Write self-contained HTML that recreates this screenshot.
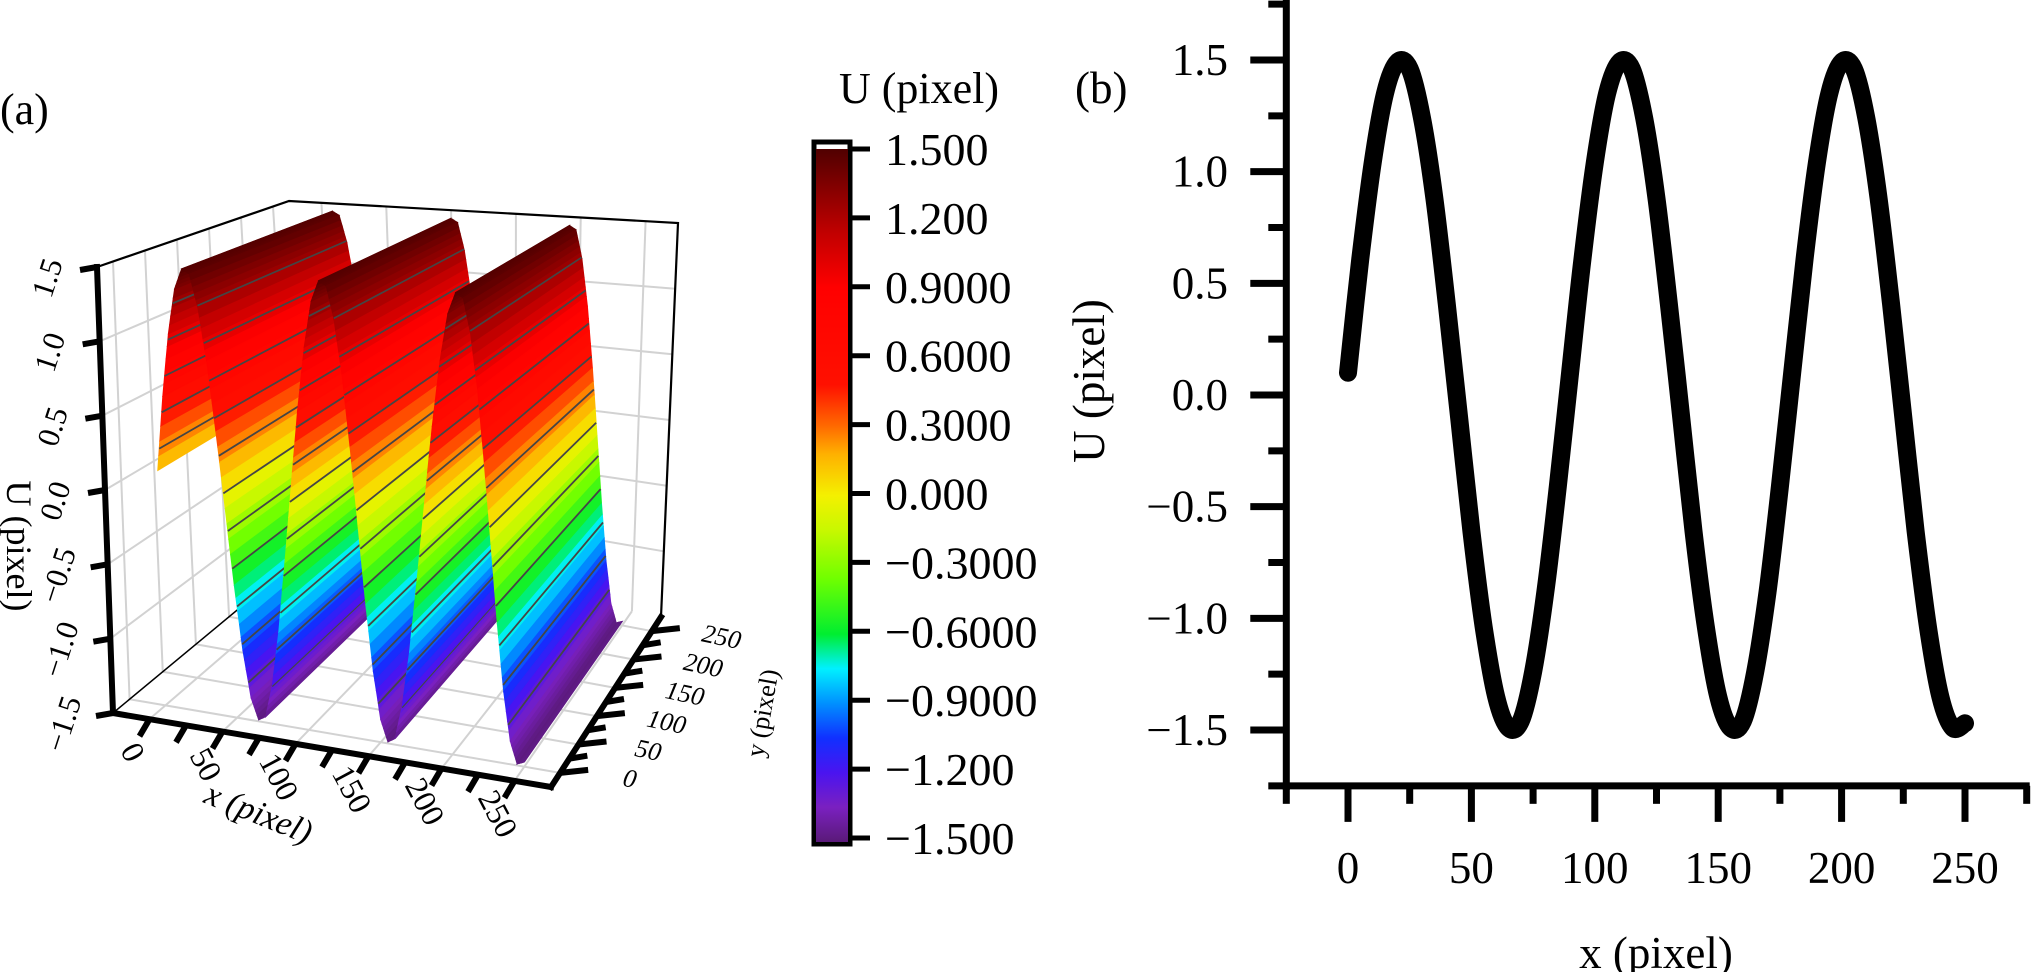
<!DOCTYPE html>
<html><head><meta charset="utf-8"><style>
html,body{margin:0;padding:0;background:#fff;}
svg{display:block;font-family:"Liberation Serif","Times New Roman",serif;}
</style></head><body>
<svg id="fig" width="2034" height="972" viewBox="0 0 2034 972" xmlns="http://www.w3.org/2000/svg">
<defs>
<linearGradient id="cbgrad" x1="0" y1="1" x2="0" y2="0">
<stop offset="0" stop-color="#5a1a78"/><stop offset="0.05" stop-color="#7a20c0"/><stop offset="0.1" stop-color="#4a14f0"/><stop offset="0.15" stop-color="#1030ff"/><stop offset="0.2" stop-color="#0090ff"/><stop offset="0.25" stop-color="#00f0ff"/><stop offset="0.3" stop-color="#00ee30"/><stop offset="0.38" stop-color="#70ff00"/><stop offset="0.45" stop-color="#c8f800"/><stop offset="0.5" stop-color="#f4f000"/><stop offset="0.56" stop-color="#ffb000"/><stop offset="0.6" stop-color="#ff6a00"/><stop offset="0.66" stop-color="#ff1000"/><stop offset="0.8" stop-color="#ff0000"/><stop offset="0.88" stop-color="#c00000"/><stop offset="1" stop-color="#500000"/>
</linearGradient>
</defs>
<g id="left"></g>
<g id="cbar"></g>
<g id="right"></g>
</svg>
<script>
// ---- data ----
const xValues = [0,5,10,15,20,25,30,35,40,45,50,55,60,65,70,75,80,85,90,95,100,105,110,115,120,125,130,135,140,145,150,155,160,165,170,175,180,185,190,195,200,205,210,215,220,225,230,235,240,245,250];
const uValues = [0.10,0.61,1.04,1.35,1.49,1.46,1.24,0.88,0.41,-0.10,-0.61,-1.04,-1.35,-1.49,-1.46,-1.24,-0.88,-0.41,0.10,0.61,1.04,1.35,1.49,1.46,1.24,0.88,0.41,-0.10,-0.61,-1.04,-1.35,-1.49,-1.46,-1.24,-0.88,-0.41,0.10,0.61,1.04,1.35,1.49,1.46,1.24,0.88,0.41,-0.10,-0.61,-1.04,-1.35,-1.49,-1.47];
const xTicks2D = [0,50,100,150,200,250];
const yTicks2D = [1.5,1.0,0.5,0.0,-0.5,-1.0,-1.5];
const yTickLabels2D = ["1.5","1.0","0.5","0.0","\u22120.5","\u22121.0","\u22121.5"];
const cbTicks = [1.5,1.2,0.9,0.6,0.3,0.0,-0.3,-0.6,-0.9,-1.2,-1.5];
const cbLabels = ["1.500","1.200","0.9000","0.6000","0.3000","0.000","\u22120.3000","\u22120.6000","\u22120.9000","\u22121.200","\u22121.500"];
const zTicks3D = [1.5,1.0,0.5,0.0,-0.5,-1.0,-1.5];
const zTickLabels3D = ["1.5","1.0","0.5","0.0","\u22120.5","\u22121.0","\u22121.5"];
const xyTicks3D = [0,50,100,150,200,250];
const contourLevels = [1.25,1.0,0.75,0.5,0.25,0.0,-0.25,-0.5,-0.75,-1.0,-1.25];

const NS="http://www.w3.org/2000/svg";
function mk(parent,tag,attrs,text){const e=document.createElementNS(NS,tag);for(const k in attrs)e.setAttribute(k,attrs[k]);if(text!==undefined)e.textContent=text;parent.appendChild(e);return e;}

// ---- colormap ----
const cmapV=[-1.5,-1.35,-1.2,-1.05,-0.9,-0.75,-0.6,-0.36,-0.15,0.0,0.18,0.3,0.48,0.9,1.14,1.5];
const cmapC=[[90,26,120],[122,32,192],[74,20,240],[16,48,255],[0,144,255],[0,240,255],[0,238,48],[112,255,0],[200,248,0],[244,240,0],[255,176,0],[255,106,0],[255,16,0],[255,0,0],[192,0,0],[80,0,0]];
function cmap(v){if(v<=cmapV[0])return cmapC[0];for(let i=1;i<cmapV.length;i++){if(v<=cmapV[i]){const t=(v-cmapV[i-1])/(cmapV[i]-cmapV[i-1]);const a=cmapC[i-1],b=cmapC[i];return [0,1,2].map(k=>Math.round(a[k]+(b[k]-a[k])*t));}}return cmapC[cmapC.length-1];}
function rgb(c){return 'rgb('+c[0]+','+c[1]+','+c[2]+')';}

// ---- 3D projection (trilinear between box corners) ----
const XR=[-25,275],YR=[-25,275],ZR=[-1.5,1.5];
const C={'000':[113,713],'100':[551,787],'010':[312,548],'110':[661,617],'001':[97,267],'101':[560,308],'011':[289,201],'111':[678,223]};
function P(x,y,z){const u=(x-XR[0])/(XR[1]-XR[0]),v=(y-YR[0])/(YR[1]-YR[0]),w=(z-ZR[0])/(ZR[1]-ZR[0]);let px=0,py=0;
for(const i of [0,1])for(const j of [0,1])for(const k of [0,1]){const f=(i?u:1-u)*(j?v:1-v)*(k?w:1-w);const c=C[''+i+j+k];px+=f*c[0];py+=f*c[1];}return [px,py];}
function pts(a){return a.map(p=>p[0].toFixed(1)+','+p[1].toFixed(1)).join(' ');}

const L=document.getElementById('left');
const grid=mk(L,'g',{stroke:'#d2d2d2','stroke-width':2,fill:'none'});


const zg=[-1.0,-0.5,0.0,0.5,1.0];
xyTicks3D.forEach(t=>{
  let a=P(-25,t,-1.5),b=P(-25,t,1.5);mk(grid,'line',{x1:a[0],y1:a[1],x2:b[0],y2:b[1]});
  a=P(t,275,-1.5);b=P(t,275,1.5);mk(grid,'line',{x1:a[0],y1:a[1],x2:b[0],y2:b[1]});
  a=P(t,-25,-1.5);b=P(t,275,-1.5);mk(grid,'line',{x1:a[0],y1:a[1],x2:b[0],y2:b[1]});
  a=P(-25,t,-1.5);b=P(275,t,-1.5);mk(grid,'line',{x1:a[0],y1:a[1],x2:b[0],y2:b[1]});
});
zg.forEach(z=>{
  let a=P(-25,-25,z),b=P(-25,275,z),c=P(275,275,z);mk(grid,'polyline',{points:pts([a,b,c])});
});
const box=mk(L,'polyline',{points:pts([P(-25,-25,1.5),P(-25,275,1.5),P(275,275,1.5),P(275,275,-1.5)]),fill:'none',stroke:'#000','stroke-width':2.2});


const fl=mk(L,'line',{x1:P(-25,-25,-1.5)[0],y1:P(-25,-25,-1.5)[1],x2:P(-25,275,-1.5)[0],y2:P(-25,275,-1.5)[1],stroke:'#000','stroke-width':1.5});



const surf=mk(L,'g',{});


const SUB=5;
for(let i=0;i<xValues.length-1;i++){
  for(let s=0;s<SUB;s++){
    const xa=xValues[i]+(xValues[i+1]-xValues[i])*s/SUB, xb=xValues[i]+(xValues[i+1]-xValues[i])*(s+1)/SUB;
    const za=uValues[i]+(uValues[i+1]-uValues[i])*s/SUB, zb=uValues[i]+(uValues[i+1]-uValues[i])*(s+1)/SUB;
    const col=rgb(cmap((za+zb)/2));
    const q=mk(surf,'polygon',{points:pts([P(xa,0,za),P(xb,0,zb),P(xb,250,zb),P(xa,250,za)]),fill:col,stroke:col,'stroke-width':1});
    
    
  }
  contourLevels.forEach(lv=>{
    const z0=uValues[i],z1=uValues[i+1];
    if((lv-z0)*(lv-z1)<0){const xc=xValues[i]+(xValues[i+1]-xValues[i])*(lv-z0)/(z1-z0);
      const a=P(xc,0,lv),b=P(xc,250,lv);
      const ln=mk(surf,'line',{x1:a[0],y1:a[1],x2:b[0],y2:b[1],stroke:'#454545','stroke-width':1.8});
      
      }
  });
}
function axLine(a,b,name){const e=mk(L,'line',{x1:a[0],y1:a[1],x2:b[0],y2:b[1],stroke:'#000','stroke-width':6,'stroke-linecap':'square'});}
axLine(P(-25,-25,-1.5),P(-25,-25,1.5),'z-axis');
axLine(P(-25,-25,-1.5),P(275,-25,-1.5),'x-axis');
axLine(P(275,-25,-1.5),P(275,275,-1.5),'y-axis');
zTicks3D.forEach((z,i)=>{const a=P(-25,-25,z);
  const t=mk(L,'line',{x1:a[0],y1:a[1],x2:a[0]-17,y2:a[1]+3,stroke:'#000','stroke-width':6});
  
  
  const lx=a[0]-40,ly=a[1]+14;
  const lb=mk(L,'text',{x:lx,y:ly,'font-size':31,'text-anchor':'middle',transform:'rotate(-72 '+lx+' '+ly+')'},zTickLabels3D[i]);
  
  
});
for(let v=0;v<=250;v+=25){
  let a=P(v,-25,-1.5);
  const t=mk(L,'line',{x1:a[0],y1:a[1],x2:a[0]-10,y2:a[1]+17,stroke:'#000','stroke-width':6});
  
  
  a=P(275,v,-1.5);
  const ty=mk(L,'line',{x1:a[0],y1:a[1],x2:a[0]+(v%50===0?28:18),y2:a[1]-3,stroke:'#000','stroke-width':6});
  
  
}
xyTicks3D.forEach(v=>{
  let a=P(v,-25,-1.5);const lx=a[0]-26,ly=a[1]+38;
  const t=mk(L,'text',{x:lx,y:ly,'font-size':32,'text-anchor':'middle',transform:'rotate(62 '+lx+' '+ly+')'},String(v));
  
  
  a=P(275,v,-1.5);const mx=a[0]+68,my=a[1]+14;
  const t2=mk(L,'text',{x:mx,y:my,'font-size':26,'font-style':'italic','text-anchor':'middle',transform:'rotate(12 '+mx+' '+my+')'},String(v));
  
  
});
mk(L,'text',{x:259,y:824,'font-size':34,'font-style':'italic','text-anchor':'middle',transform:'rotate(22 259 812)',},'x (pixel)');
mk(L,'text',{x:762,y:722,'font-size':26,'text-anchor':'middle',transform:'rotate(-80 762 713)',},'y (pixel)');
mk(L,'text',{x:19,y:558,'font-size':36,'text-anchor':'middle',transform:'rotate(90 19 546)',},'U (pixel)');
mk(L,'text',{x:0,y:124,'font-size':44,},'(a)');

// ---- colorbar ----
const CB=document.getElementById('cbar');
const cbTop=149,cbBot=838;
function cbY(v){return cbBot-(v+1.5)/3*(cbBot-cbTop);}
mk(CB,'rect',{x:814,y:142,width:36,height:702,fill:'#fff',stroke:'#000','stroke-width':5,});
mk(CB,'rect',{x:816,y:cbTop,width:32,height:cbBot-cbTop+4,fill:'url(#cbgrad)',});
cbTicks.forEach((v,i)=>{const y=cbY(v);
  const t=mk(CB,'line',{x1:851,y1:y,x2:870,y2:y,stroke:'#000','stroke-width':5});
  
  
  const lb=mk(CB,'text',{x:885,y:y+16,'font-size':46},cbLabels[i]);
  
  
});
mk(CB,'text',{x:919,y:103,'font-size':44,'text-anchor':'middle',},'U (pixel)');

// ---- right 2D plot ----
const R=document.getElementById('right');
function sx(x){return 1348+(x-0)*(1965-1348)/250;}
function sy(u){return 730-(u+1.5)*(730-60)/3;}
const axisY=sy(-1.75), axisX=sx(-25);
mk(R,'line',{x1:axisX,y1:0,x2:axisX,y2:axisY+4,stroke:'#000','stroke-width':7,});
mk(R,'line',{x1:axisX-18,y1:axisY,x2:sx(275)+3,y2:axisY,stroke:'#000','stroke-width':7,});
for(let v=-25;v<=275;v+=25){const maj=(v%50===0);
  const t=mk(R,'line',{x1:sx(v),y1:axisY,x2:sx(v),y2:axisY+(maj?36:18),stroke:'#000','stroke-width':7});
  
  }
for(let u=-1.5;u<=1.76;u+=0.25){const maj=Math.abs(u*2-Math.round(u*2))<1e-6&&Math.abs(u)<1.6;
  const t=mk(R,'line',{x1:axisX,y1:sy(u),x2:axisX-(maj?36:18),y2:sy(u),stroke:'#000','stroke-width':7});
  
  }
yTicks2D.forEach((u,i)=>{const t=mk(R,'text',{x:1228,y:sy(u)+15,'font-size':45,'text-anchor':'end'},yTickLabels2D[i]);
  
  });
xTicks2D.forEach(v=>{const t=mk(R,'text',{x:sx(v),y:883,'font-size':45,'text-anchor':'middle'},String(v));
  
  });
mk(R,'text',{x:1656,y:968,'font-size':45,'text-anchor':'middle',},'x (pixel)');
mk(R,'text',{x:1120,y:397,'font-size':45,'text-anchor':'middle',transform:'rotate(-90 1104 397)',},'U (pixel)');
mk(R,'text',{x:1075,y:103,'font-size':45,},'(b)');
// smooth path (Catmull-Rom through data points)
const sp=xValues.map((x,i)=>[sx(x),sy(uValues[i])]);
let d='M'+sp[0][0].toFixed(1)+' '+sp[0][1].toFixed(1);
for(let i=0;i<sp.length-1;i++){const p0=sp[Math.max(0,i-1)],p1=sp[i],p2=sp[i+1],p3=sp[Math.min(sp.length-1,i+2)];
  const c1=[p1[0]+(p2[0]-p0[0])/6,p1[1]+(p2[1]-p0[1])/6],c2=[p2[0]-(p3[0]-p1[0])/6,p2[1]-(p3[1]-p1[1])/6];
  d+=' C'+c1[0].toFixed(1)+' '+c1[1].toFixed(1)+' '+c2[0].toFixed(1)+' '+c2[1].toFixed(1)+' '+p2[0].toFixed(1)+' '+p2[1].toFixed(1);}
mk(R,'path',{d:d,fill:'none',stroke:'#000','stroke-width':18,'stroke-linejoin':'round','stroke-linecap':'round',});
</script>
</body></html>
